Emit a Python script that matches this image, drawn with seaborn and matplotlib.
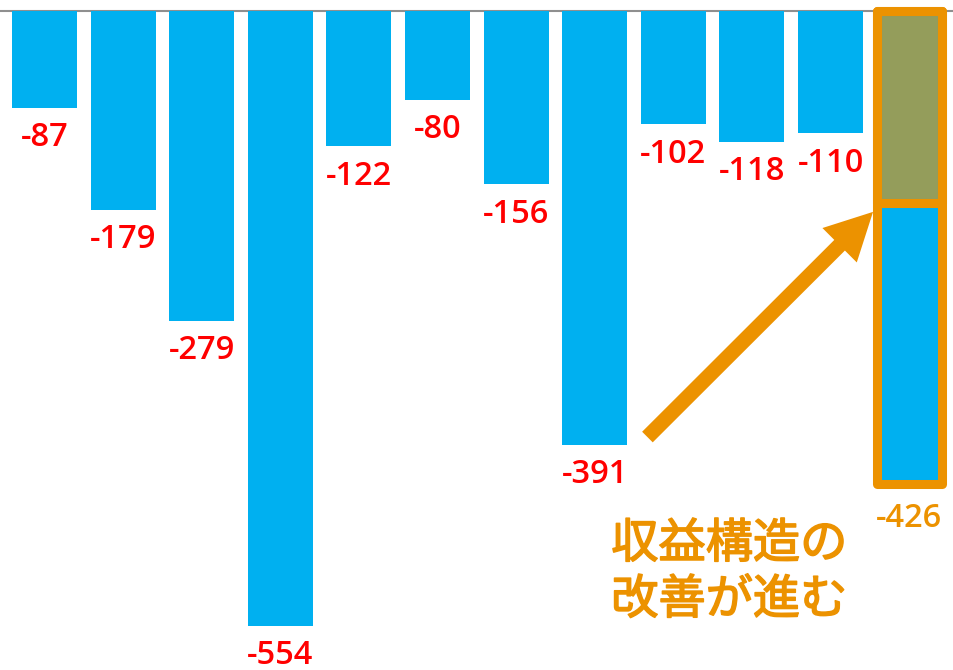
import matplotlib
matplotlib.use("Agg")
import matplotlib.pyplot as plt
import matplotlib.patheffects as pe
import seaborn as sns
import pandas as pd

# Yearly operating results (hundred million yen), last period split into improvement + remaining loss
periods = ["P1", "P2", "P3", "P4", "P5", "P6", "P7", "P8", "P9", "P10", "P11", "P12"]
results = [-87, -179, -279, -554, -122, -80, -156, -391, -102, -118, -110, -426]
improvement_part = -173          # upper (green) segment of the last bar
callout = "収益構造の\n改善が進む"

BLUE = "#00B0F0"
GREEN = "#949D5B"
ORANGE = "#EC9200"
RED = "#FF0000"
BAR_W = 0.827

sns.set_theme(style="white")
plt.rcParams["font.family"] = ["Noto Sans CJK JP", "DejaVu Sans"]

fig = plt.figure(figsize=(9.54, 6.70), dpi=100)
ax = fig.add_axes([0, 0, 1, 1])

df = pd.DataFrame({"period": periods, "result": results})
sns.barplot(data=df, x="period", y="result", color=BLUE, saturation=1,
            width=BAR_W, linewidth=0, ax=ax, zorder=2)

last = len(periods) - 1
# green top segment of the last bar, with the orange divider as its edge
ax.bar(last, improvement_part, width=BAR_W, color=GREEN, edgecolor=ORANGE,
       linewidth=6.5, zorder=3, joinstyle="round")
# orange frame around the whole last bar
ax.bar(last, results[-1], width=BAR_W, facecolor="none", edgecolor=ORANGE,
       linewidth=6.5, zorder=4, joinstyle="round")

ax.axhline(0, color="#8F8F8F", linewidth=1.5, zorder=1)

# value labels under each bar
for i, v in enumerate(results):
    is_last = i == last
    ax.annotate(f"{v}", xy=(i, v), xytext=(0, -35 if is_last else -30),
                textcoords="offset pixels", ha="center", va="center",
                fontsize=23.5, family=["Open Sans", "DejaVu Sans"], fontweight=600,
                color=ORANGE if is_last else RED, zorder=5)

# arrow pointing to the improved portion
ax.annotate("", xy=(10.54, -181), xytext=(7.67, -384),
            arrowprops=dict(arrowstyle="simple,head_length=3.4,head_width=3.5,tail_width=1.08",
                            mutation_scale=10, color=ORANGE, shrinkA=0, shrinkB=0,
                            linewidth=0),
            zorder=5)

ax.text(7.21, -506, callout, ha="left", va="center", fontsize=34,
        color=ORANGE, linespacing=1.2, zorder=5,
        path_effects=[pe.withStroke(linewidth=1.1, foreground=ORANGE)])

ax.set_xlim(-0.566, 11.57)
ax.set_ylim(-594, 10)
ax.axis("off")

fig.savefig("out.png", dpi=100)
